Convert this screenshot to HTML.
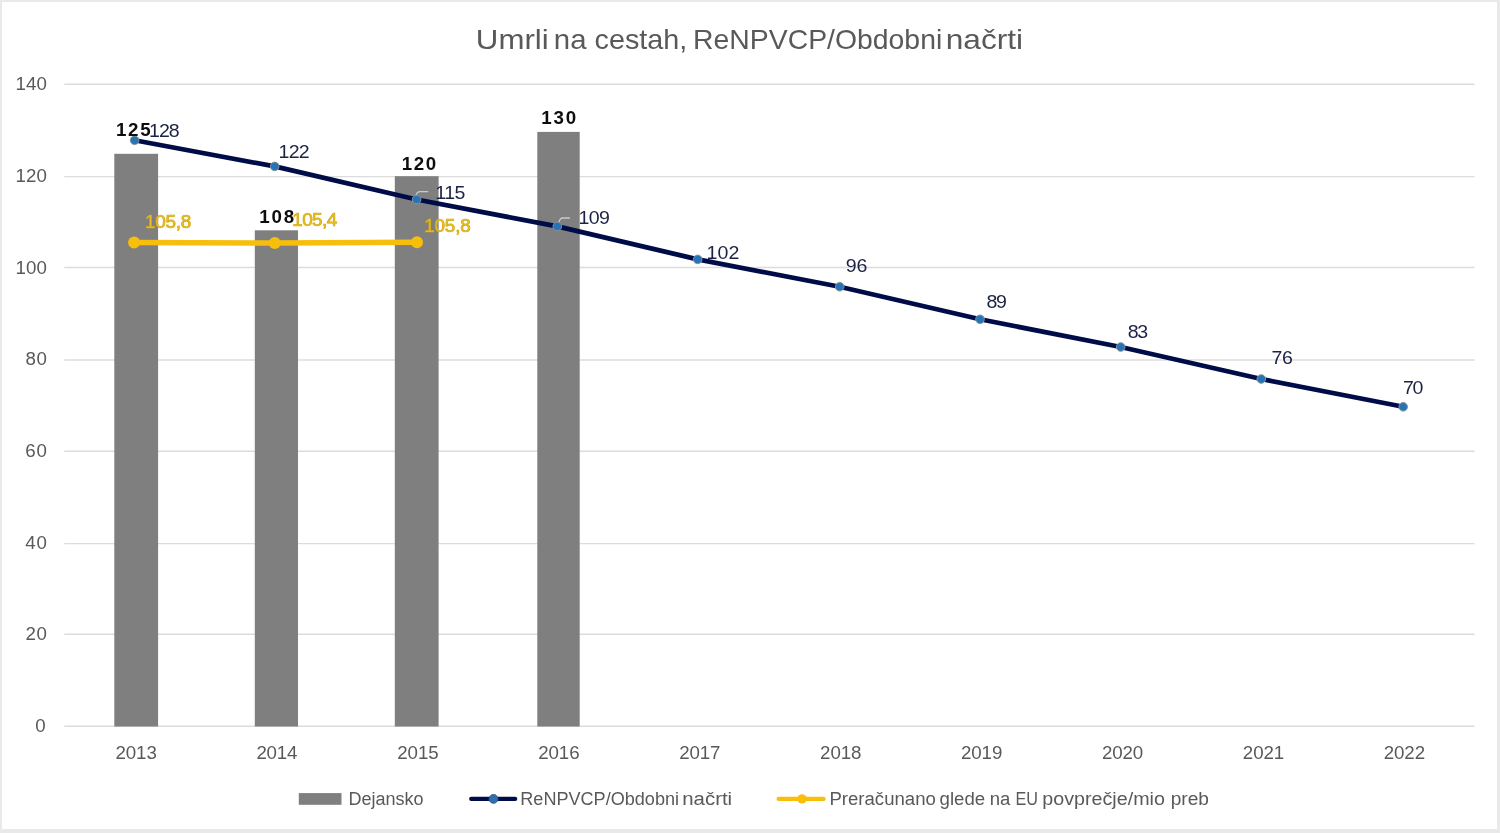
<!DOCTYPE html>
<html><head><meta charset="utf-8"><title>Umrli na cestah</title>
<style>
html,body{margin:0;padding:0;background:#fff;}
body{width:1500px;height:833px;overflow:hidden;position:relative;font-family:"Liberation Sans", sans-serif;}
.frame{position:absolute;left:0;top:0;width:1500px;height:833px;box-sizing:border-box;border-style:solid;border-color:#e9e9e9;border-width:2px 3px 4px 2px;}
svg{position:absolute;left:0;top:0;filter:blur(0.35px);}
text{font-family:"Liberation Sans", sans-serif;}
</style></head><body>
<div class="frame"></div>
<svg width="1500" height="833" viewBox="0 0 1500 833">
<line x1="64.3" y1="726.30" x2="1474.6" y2="726.30" stroke="#dcdcdc" stroke-width="1.4"/>
<line x1="64.3" y1="634.20" x2="1474.6" y2="634.20" stroke="#dcdcdc" stroke-width="1.4"/>
<line x1="64.3" y1="543.60" x2="1474.6" y2="543.60" stroke="#dcdcdc" stroke-width="1.4"/>
<line x1="64.3" y1="451.20" x2="1474.6" y2="451.20" stroke="#dcdcdc" stroke-width="1.4"/>
<line x1="64.3" y1="360.05" x2="1474.6" y2="360.05" stroke="#dcdcdc" stroke-width="1.4"/>
<line x1="64.3" y1="267.45" x2="1474.6" y2="267.45" stroke="#dcdcdc" stroke-width="1.4"/>
<line x1="64.3" y1="176.60" x2="1474.6" y2="176.60" stroke="#dcdcdc" stroke-width="1.4"/>
<line x1="64.3" y1="84.30" x2="1474.6" y2="84.30" stroke="#dcdcdc" stroke-width="1.4"/>
<rect x="114.3" y="153.8" width="43.8" height="572.7" fill="#7f7f7f"/>
<rect x="254.8" y="230.3" width="43.2" height="496.2" fill="#7f7f7f"/>
<rect x="394.8" y="176.2" width="43.8" height="550.3" fill="#7f7f7f"/>
<rect x="537.3" y="131.9" width="42.4" height="594.6" fill="#7f7f7f"/>
<polyline points="134.1,242.5 274.8,243.0 417.0,242.3" fill="none" stroke="#f7bf0c" stroke-width="5.5" stroke-linejoin="round"/>
<circle cx="134.1" cy="242.5" r="6.0" fill="#f7bf0c"/>
<circle cx="274.8" cy="243.0" r="6.0" fill="#f7bf0c"/>
<circle cx="417.0" cy="242.3" r="6.0" fill="#f7bf0c"/>
<polyline points="134.6,140.3 274.7,166.4 416.6,199.5 557.3,226.4 697.7,259.4 839.7,286.7 980.0,319.3 1120.7,347.0 1261.3,379.0 1403.2,406.8" fill="none" stroke="#000c48" stroke-width="4.7" stroke-linejoin="round"/>
<path d="M415.8,196 Q416.8,191.6 420,191.6 L428.2,191.6" fill="none" stroke="#c9c9c9" stroke-width="1.3"/>
<path d="M558.8,223 Q559.5,218 563,218 L570,218" fill="none" stroke="#c9c9c9" stroke-width="1.3"/>
<circle cx="134.6" cy="140.3" r="4.3" fill="#2674b8" stroke="#8c9096" stroke-width="1.0"/>
<circle cx="274.7" cy="166.4" r="4.3" fill="#2674b8" stroke="#8c9096" stroke-width="1.0"/>
<circle cx="416.6" cy="199.5" r="4.3" fill="#2674b8" stroke="#8c9096" stroke-width="1.0"/>
<circle cx="557.3" cy="226.4" r="4.3" fill="#2674b8" stroke="#8c9096" stroke-width="1.0"/>
<circle cx="697.7" cy="259.4" r="4.3" fill="#2674b8" stroke="#8c9096" stroke-width="1.0"/>
<circle cx="839.7" cy="286.7" r="4.3" fill="#2674b8" stroke="#8c9096" stroke-width="1.0"/>
<circle cx="980.0" cy="319.3" r="4.3" fill="#2674b8" stroke="#8c9096" stroke-width="1.0"/>
<circle cx="1120.7" cy="347.0" r="4.3" fill="#2674b8" stroke="#8c9096" stroke-width="1.0"/>
<circle cx="1261.3" cy="379.0" r="4.3" fill="#2674b8" stroke="#8c9096" stroke-width="1.0"/>
<circle cx="1403.2" cy="406.8" r="4.3" fill="#2674b8" stroke="#8c9096" stroke-width="1.0"/>
<rect x="298.8" y="793.1" width="42.7" height="11.7" fill="#7f7f7f"/>
<line x1="471.2" y1="798.9" x2="515.2" y2="798.9" stroke="#000c48" stroke-width="4.2" stroke-linecap="round"/>
<circle cx="493.5" cy="798.9" r="4.4" fill="#2f6fb0" stroke="#3d5a7a" stroke-width="1"/>
<line x1="778.6" y1="798.9" x2="823.6" y2="798.9" stroke="#f7bf0c" stroke-width="4.2" stroke-linecap="round"/>
<circle cx="802.0" cy="798.9" r="4.7" fill="#f7bf0c"/>
<text transform="translate(35.22,731.75) scale(1.04,1)" x="0" y="0" font-size="18" fill="#595959" font-weight="normal" letter-spacing="1.21">0</text>
<text transform="translate(25.56,639.55) scale(1.04,1)" x="0" y="0" font-size="18" fill="#595959" font-weight="normal" letter-spacing="0.50">20</text>
<text transform="translate(25.28,548.95) scale(1.04,1)" x="0" y="0" font-size="18" fill="#595959" font-weight="normal" letter-spacing="0.77">40</text>
<text transform="translate(25.36,456.75) scale(1.04,1)" x="0" y="0" font-size="18" fill="#595959" font-weight="normal" letter-spacing="0.69">60</text>
<text transform="translate(25.62,364.55) scale(1.04,1)" x="0" y="0" font-size="18" fill="#595959" font-weight="normal" letter-spacing="0.44">80</text>
<text transform="translate(15.50,274.35) scale(1.04,1)" x="0" y="0" font-size="18" fill="#595959" font-weight="normal" letter-spacing="0.09">100</text>
<text transform="translate(15.50,181.85) scale(1.04,1)" x="0" y="0" font-size="18" fill="#595959" font-weight="normal" letter-spacing="0.09">120</text>
<text transform="translate(15.40,90.05) scale(1.04,1)" x="0" y="0" font-size="18" fill="#595959" font-weight="normal" letter-spacing="0.13">140</text>
<text transform="translate(115.46,758.95) scale(1.04,1)" x="0" y="0" font-size="18" fill="#595959" font-weight="normal" letter-spacing="-0.09">2013</text>
<text transform="translate(256.38,758.95) scale(1.04,1)" x="0" y="0" font-size="18" fill="#595959" font-weight="normal" letter-spacing="-0.17">2014</text>
<text transform="translate(397.30,758.95) scale(1.04,1)" x="0" y="0" font-size="18" fill="#595959" font-weight="normal" letter-spacing="-0.09">2015</text>
<text transform="translate(538.22,758.95) scale(1.04,1)" x="0" y="0" font-size="18" fill="#595959" font-weight="normal" letter-spacing="-0.09">2016</text>
<text transform="translate(679.14,758.95) scale(1.04,1)" x="0" y="0" font-size="18" fill="#595959" font-weight="normal" letter-spacing="-0.09">2017</text>
<text transform="translate(820.06,758.95) scale(1.04,1)" x="0" y="0" font-size="18" fill="#595959" font-weight="normal" letter-spacing="-0.09">2018</text>
<text transform="translate(960.98,758.95) scale(1.04,1)" x="0" y="0" font-size="18" fill="#595959" font-weight="normal" letter-spacing="-0.09">2019</text>
<text transform="translate(1101.90,758.95) scale(1.04,1)" x="0" y="0" font-size="18" fill="#595959" font-weight="normal" letter-spacing="-0.09">2020</text>
<text transform="translate(1242.82,758.95) scale(1.04,1)" x="0" y="0" font-size="18" fill="#595959" font-weight="normal" letter-spacing="-0.09">2021</text>
<text transform="translate(1383.74,758.95) scale(1.04,1)" x="0" y="0" font-size="18" fill="#595959" font-weight="normal" letter-spacing="-0.09">2022</text>
<text transform="translate(116.00,135.75) scale(1.04,1)" x="0" y="0" font-size="18" fill="#0d0d0d" font-weight="bold" letter-spacing="1.60">125</text>
<text transform="translate(259.20,222.75) scale(1.04,1)" x="0" y="0" font-size="18" fill="#0d0d0d" font-weight="bold" letter-spacing="1.74">108</text>
<text transform="translate(401.70,169.75) scale(1.04,1)" x="0" y="0" font-size="18" fill="#0d0d0d" font-weight="bold" letter-spacing="1.53">120</text>
<text transform="translate(541.20,123.95) scale(1.04,1)" x="0" y="0" font-size="18" fill="#0d0d0d" font-weight="bold" letter-spacing="1.82">130</text>
<text transform="translate(149.00,137.45) scale(1.12,1)" x="0" y="0" font-size="17.5" fill="#1c2244" font-weight="normal" letter-spacing="-0.90">128</text>
<text transform="translate(278.60,158.30) scale(1.12,1)" x="0" y="0" font-size="17.5" fill="#1c2244" font-weight="normal" letter-spacing="-0.73">122</text>
<text transform="translate(435.30,199.15) scale(1.12,1)" x="0" y="0" font-size="17.5" fill="#1c2244" font-weight="normal" letter-spacing="-0.54">115</text>
<text transform="translate(578.60,224.45) scale(1.12,1)" x="0" y="0" font-size="17.5" fill="#1c2244" font-weight="normal" letter-spacing="-0.64">109</text>
<text transform="translate(706.60,258.55) scale(1.12,1)" x="0" y="0" font-size="17.5" fill="#1c2244" font-weight="normal" letter-spacing="0.07">102</text>
<text transform="translate(845.86,272.45) scale(1.12,1)" x="0" y="0" font-size="17.5" fill="#1c2244" font-weight="normal" letter-spacing="-0.14">96</text>
<text transform="translate(986.46,308.45) scale(1.12,1)" x="0" y="0" font-size="17.5" fill="#1c2244" font-weight="normal" letter-spacing="-1.30">89</text>
<text transform="translate(1127.86,338.45) scale(1.12,1)" x="0" y="0" font-size="17.5" fill="#1c2244" font-weight="normal" letter-spacing="-1.39">83</text>
<text transform="translate(1271.58,364.45) scale(1.12,1)" x="0" y="0" font-size="17.5" fill="#1c2244" font-weight="normal" letter-spacing="-0.52">76</text>
<text transform="translate(1402.88,393.75) scale(1.12,1)" x="0" y="0" font-size="17.5" fill="#1c2244" font-weight="normal" letter-spacing="-1.05">70</text>
<text transform="translate(144.95,228.25) scale(1.08,1)" x="0" y="0" font-size="17.5" fill="#ecc22a" font-weight="normal" letter-spacing="-0.23" stroke="#d4a90e" stroke-width="0.7">105,8</text>
<text transform="translate(292.25,226.35) scale(1.08,1)" x="0" y="0" font-size="17.5" fill="#ecc22a" font-weight="normal" letter-spacing="-0.55" stroke="#d4a90e" stroke-width="0.7">105,4</text>
<text transform="translate(424.15,231.65) scale(1.08,1)" x="0" y="0" font-size="17.5" fill="#ecc22a" font-weight="normal" letter-spacing="-0.14" stroke="#d4a90e" stroke-width="0.7">105,8</text>
<text x="475.89" y="49.00" font-size="28" fill="#595959" font-weight="normal" textLength="72.83" lengthAdjust="spacingAndGlyphs">Umrli</text>
<text x="553.80" y="49.00" font-size="28" fill="#595959" font-weight="normal" textLength="32.70" lengthAdjust="spacingAndGlyphs">na</text>
<text x="594.52" y="49.00" font-size="28" fill="#595959" font-weight="normal" textLength="92.79" lengthAdjust="spacingAndGlyphs">cestah,</text>
<text x="693.12" y="49.00" font-size="28" fill="#595959" font-weight="normal" textLength="249.11" lengthAdjust="spacingAndGlyphs">ReNPVCP/Obdobni</text>
<text x="945.74" y="49.00" font-size="28" fill="#595959" font-weight="normal" textLength="77.39" lengthAdjust="spacingAndGlyphs">načrti</text>
<text x="348.50" y="805.30" font-size="18" fill="#595959" font-weight="normal" textLength="75.10" lengthAdjust="spacingAndGlyphs">Dejansko</text>
<text x="520.29" y="805.30" font-size="18" fill="#595959" font-weight="normal" textLength="158.76" lengthAdjust="spacingAndGlyphs">ReNPVCP/Obdobni</text>
<text x="682.28" y="805.30" font-size="18" fill="#595959" font-weight="normal" textLength="49.85" lengthAdjust="spacingAndGlyphs">načrti</text>
<text x="829.45" y="805.30" font-size="18" fill="#595959" font-weight="normal" textLength="106.40" lengthAdjust="spacingAndGlyphs">Preračunano</text>
<text x="939.52" y="805.30" font-size="18" fill="#595959" font-weight="normal" textLength="45.60" lengthAdjust="spacingAndGlyphs">glede</text>
<text x="989.71" y="805.30" font-size="18" fill="#595959" font-weight="normal" textLength="20.62" lengthAdjust="spacingAndGlyphs">na</text>
<text x="1015.45" y="805.30" font-size="18" fill="#595959" font-weight="normal" textLength="22.51" lengthAdjust="spacingAndGlyphs">EU</text>
<text x="1042.33" y="805.30" font-size="18" fill="#595959" font-weight="normal" textLength="122.56" lengthAdjust="spacingAndGlyphs">povprečje/mio</text>
<text x="1170.67" y="805.30" font-size="18" fill="#595959" font-weight="normal" textLength="38.36" lengthAdjust="spacingAndGlyphs">preb</text>
</svg>
</body></html>
